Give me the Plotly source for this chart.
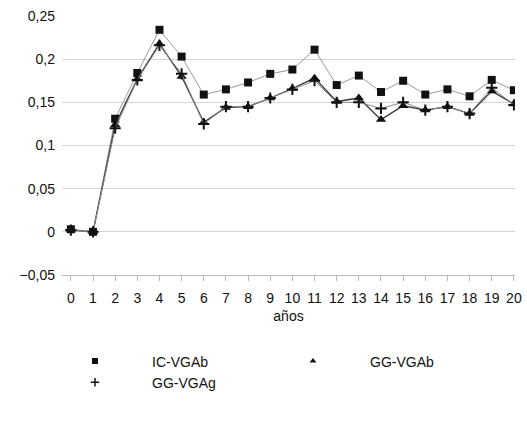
import plotly.graph_objects as go

years = list(range(21))
ic_vgab = [0.003, 0.0, 0.131, 0.184, 0.234, 0.203, 0.159, 0.165, 0.173, 0.183, 0.188, 0.211,
           0.170, 0.181, 0.162, 0.175, 0.159, 0.165, 0.157, 0.176, 0.164]
gg_vgab = [0.002, 0.0, 0.124, 0.177, 0.218, 0.180, 0.127, 0.144, 0.145, 0.155, 0.166, 0.178,
           0.151, 0.155, 0.130, 0.146, 0.141, 0.145, 0.137, 0.163, 0.148]
gg_vgag = [0.002, 0.0, 0.120, 0.176, 0.216, 0.183, 0.125, 0.145, 0.145, 0.155, 0.165, 0.175,
           0.150, 0.150, 0.143, 0.150, 0.141, 0.145, 0.137, 0.167, 0.147]
y_ticks = [-0.05, 0, 0.05, 0.1, 0.15, 0.2, 0.25]

font = dict(family="Liberation Sans, Arial, sans-serif", size=14, color="#111")

series = [
    ("IC-VGAb", ic_vgab, dict(color="#9a9a9a", width=1), dict(symbol="square", size=8, color="#111")),
    ("GG-VGAb", gg_vgab, dict(color="#333", width=1.3), dict(symbol="triangle-up", size=9, color="#111")),
    ("GG-VGAg", gg_vgag, dict(color="#8a8a8a", width=1),
     dict(symbol="cross-thin", size=8, color="#111", line=dict(width=2, color="#111"))),
]

fig = go.Figure()
for name, vals, ln, mk in series:
    fig.add_trace(go.Scatter(x=years, y=vals, name=name, mode="lines+markers",
                             line=ln, marker=mk, legendgroup=name, showlegend=False))
for name, vals, ln, mk in series:
    lmk = dict(mk)
    lmk["size"] = 6
    if "line" in lmk:
        lmk["line"] = dict(width=1.5, color="#111")
    fig.add_trace(go.Scatter(x=[None], y=[None], name=name, mode="markers",
                             marker=lmk, legendgroup=name, showlegend=True))

fig.update_layout(
    width=527, height=423,
    margin=dict(l=62, r=12, t=16, b=148, autoexpand=False),
    paper_bgcolor="white", plot_bgcolor="white",
    separators=",.",
    font=font,
    showlegend=True,
    legend=dict(orientation="h", x=-0.053, xanchor="left", y=-0.272, yanchor="top",
                itemwidth=104, entrywidth=99, font=font, tracegroupgap=0,
                itemsizing="trace"),
    xaxis=dict(range=[-0.4, 20.05], tickmode="array", tickvals=years,
               ticktext=[str(v) for v in years], showgrid=False, zeroline=False,
               showline=True, linecolor="#bbb", ticks="outside", ticklen=5,
               tickcolor="#bbb", tickfont=font, ticklabelstandoff=5, automargin=False,
               title=dict(text="años", font=font, standoff=6)),
    yaxis=dict(range=[-0.05, 0.25], tickmode="array", tickvals=y_ticks,
               showgrid=True, gridcolor="#d4d4d4", gridwidth=1, zeroline=False,
               showline=False, tickfont=font, ticks="", ticklabelstandoff=6, automargin=False),
)

fig.write_html("out.html")
